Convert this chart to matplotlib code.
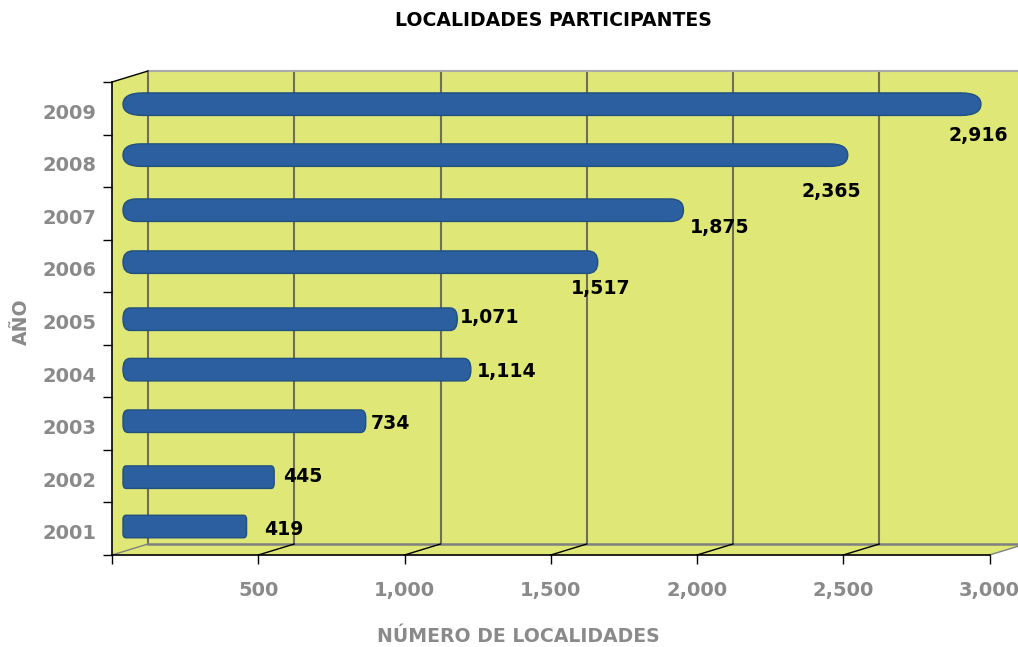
import matplotlib
matplotlib.use("Agg")
import matplotlib.pyplot as plt
from matplotlib.patches import FancyBboxPatch, Polygon
from matplotlib.transforms import Affine2D

years = ["2001", "2002", "2003", "2004", "2005", "2006", "2007", "2008", "2009"]
localities = [419, 445, 734, 1114, 1071, 1517, 1875, 2365, 2916]
labels = ["419", "445", "734", "1,114", "1,071", "1,517", "1,875", "2,365", "2,916"]
x_ticks = [0, 500, 1000, 1500, 2000, 2500, 3000]
x_ticklabels = ["", "500", "1,000", "1,500", "2,000", "2,500", "3,000"]

# layout only: how the source drew its bars and labels, in pixels
bar_start_px = 11
bar_extra_px = [12, 32, 39, 33, 32, 42, 23, 44, 16]
bar_shift_px = [2.2, -1, 2.4, 1.4, -0.7, 3.8, 3.2, 5.7, 4.1]
corner_x_px = [3, 3, 5, 7, 7, 10, 13, 18, 20]
corner_y_px = [4, 5, 8, 11, 11, 11, 11, 11.2, 11.2]
label_dx_px = [49, 61, 64, 69, 64, 45, 59, 28, 13]
label_dy_px = [0.7, 0, 0, 0.5, -1.3, 23, 14, 31, 27]

W, H = 1018, 647
LEFT, RIGHT, TOP, BOTTOM = 112, 989.5, 82, 555
DX, DY = 36, 11
GREY = "#8A8A8A"
WALL = "#DFE777"

fig = plt.figure(figsize=(W / 100, H / 100), dpi=100, facecolor="white")
ax = fig.add_axes([LEFT / W, 1 - BOTTOM / H, (RIGHT - LEFT) / W, (BOTTOM - TOP) / H])
ax.set_xlim(0, 3000)
ax.set_ylim(-0.5, 8.5)
ax.patch.set_visible(False)

sx = (RIGHT - LEFT) / 3000
sy = (BOTTOM - TOP) / 9
back = ax.transData + Affine2D().translate(DX, DY)

# walls and floor
x_far = 3200
ax.add_patch(Polygon([(0, -0.5), (x_far, -0.5), (x_far, 8.5), (0, 8.5)], closed=True,
                     transform=back, fc=WALL, ec="none", clip_on=False, zorder=0))
ax.add_patch(Polygon([(0, -0.5), (36 / sx, -0.5 + 11 / sy), (36 / sx, 8.5 + 11 / sy), (0, 8.5)],
                     closed=True, fc=WALL, ec="none", clip_on=False, zorder=0))
ax.add_patch(Polygon([(0, -0.5), (3000, -0.5), (3000 + 36 / sx, -0.5 + 11 / sy), (36 / sx, -0.5 + 11 / sy)],
                     closed=True, fc=WALL, ec="none", clip_on=False, zorder=0))

# back wall grid and edges
for x in x_ticks:
    ax.plot([x, x], [-0.5, 8.5], transform=back, color="#6F6F55", lw=1.5, clip_on=False, zorder=1)
ax.plot([0, x_far], [8.5, 8.5], transform=back, color="#ABABAB", lw=1.5, clip_on=False, zorder=1)
ax.plot([0, x_far], [-0.5, -0.5], transform=back, color="#808080", lw=1.8, clip_on=False, zorder=1)

# depth lines on the floor and the left wall
for i, x in enumerate(x_ticks):
    colour = "#808080" if i in (0, len(x_ticks) - 1) else "black"
    ax.plot([x, x + DX / sx], [-0.5, -0.5 + DY / sy], color=colour, lw=1.0, clip_on=False, zorder=1.5)
ax.plot([0, DX / sx], [8.5, 8.5 + DY / sy], color="black", lw=1.0, clip_on=False, zorder=1.5)

# bars
for i, v in enumerate(localities):
    x0 = bar_start_px / sx
    x1 = v + bar_extra_px[i] / sx
    h = 22.5 / sy
    yc = i + bar_shift_px[i] / sy
    rx = corner_x_px[i] / sx
    ry = corner_y_px[i] / sy
    ax.add_patch(FancyBboxPatch((x0, yc - h / 2), x1 - x0, h,
                                boxstyle=f"round,pad=0,rounding_size={rx}",
                                mutation_aspect=ry / rx, fc="#2B5F9F", ec="#21507F", lw=1.0,
                                clip_on=False, zorder=3))
    ax.annotate(labels[i], (v, i), xytext=(label_dx_px[i] * 0.72, -label_dy_px[i] * 0.72),
                textcoords="offset points", ha="center", va="center", fontsize=13.6,
                fontweight="bold", color="black", family="DejaVu Sans", zorder=4,
                annotation_clip=False)

# axes
for s in ("top", "right"):
    ax.spines[s].set_visible(False)
for s in ("left", "bottom"):
    ax.spines[s].set_color("black")
    ax.spines[s].set_linewidth(1.2)
    ax.spines[s].set_zorder(2)
ax.set_xticks(x_ticks)
ax.set_xticklabels(x_ticklabels, fontsize=14, color=GREY, fontweight="bold")
ax.tick_params(axis="x", length=6.5, width=1, color="black", pad=12)
ax.set_yticks(range(len(years)))
ax.set_yticklabels(years, fontsize=14, color=GREY, fontweight="bold")
ax.tick_params(axis="y", which="major", length=0, pad=11.5)
ax.set_yticks([i - 0.5 for i in range(len(years) + 1)], minor=True)
ax.tick_params(axis="y", which="minor", length=6.5, width=1, color="black")
shift = Affine2D().translate(0, -3)
for t in ax.get_yticklabels():
    t.set_transform(t.get_transform() + shift)

fig.text(553.5 / W, 1 - 21 / H, "LOCALIDADES PARTICIPANTES", ha="center", va="center",
         fontsize=13.6, fontweight="bold", color="black", family="DejaVu Sans")
fig.text(518.5 / W, 1 - 642.5 / H, "NÚMERO DE LOCALIDADES", ha="center", va="baseline",
         fontsize=13.6, fontweight="bold", color=GREY)
fig.text(21 / W, 1 - 322 / H, "AÑO", ha="center", va="center", rotation=90,
         fontsize=13.6, fontweight="bold", color=GREY)

fig.savefig("out.png", dpi=100, facecolor="white")
